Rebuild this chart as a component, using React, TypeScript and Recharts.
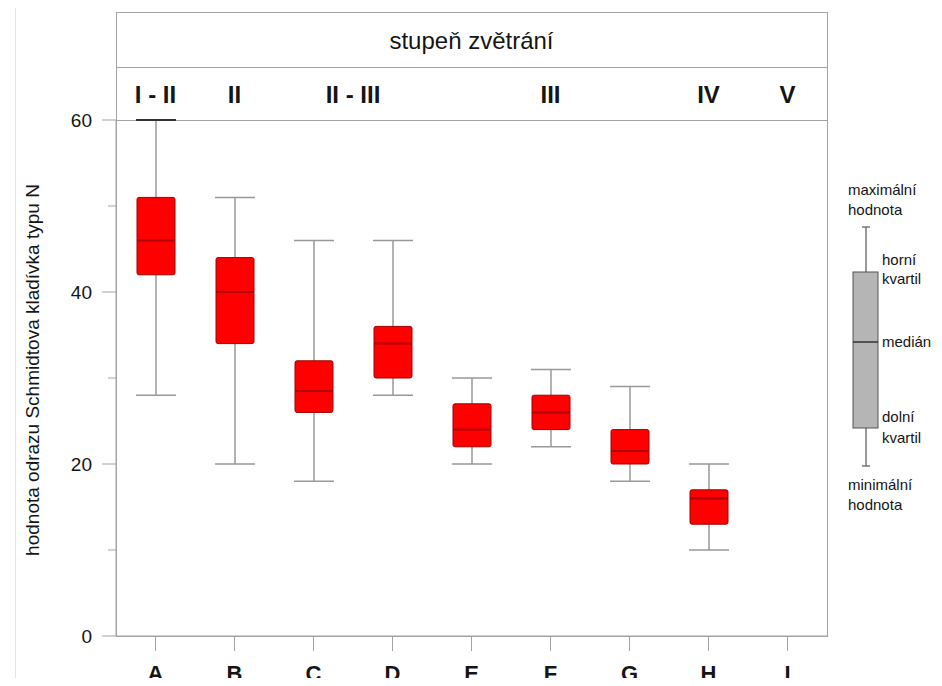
import React from 'react';
import { ComposedChart, Bar, XAxis, YAxis } from 'recharts';

// Box plot statistics per locality
const categories = ['A', 'B', 'C', 'D', 'E', 'F', 'G', 'H', 'I'];
const minValues = [28, 20, 18, 28, 20, 22, 18, 10, null];
const q1Values = [42, 34, 26, 30, 22, 24, 20, 13, null];
const medianValues = [46, 40, 28.5, 34, 24, 26, 21.5, 16, null];
const q3Values = [51, 44, 32, 36, 27, 28, 24, 17, null];
const maxValues = [60, 51, 46, 46, 30, 31, 29, 20, null];

const yTicks = [0, 10, 20, 30, 40, 50, 60];

// Weathering grade labels; a group may span several localities
const gradeGroups = [
  { label: 'I - II', from: 0, to: 0 },
  { label: 'II', from: 1, to: 1 },
  { label: 'II - III', from: 2, to: 3 },
  { label: 'III', from: 4, to: 6 },
  { label: 'IV', from: 7, to: 7 },
  { label: 'V', from: 8, to: 8 },
];

const data = categories.map((cat, i) => ({
  cat,
  range: minValues[i] == null ? null : [minValues[i], maxValues[i]],
  min: minValues[i],
  q1: q1Values[i],
  median: medianValues[i],
  q3: q3Values[i],
  max: maxValues[i],
}));

const W = 942;
const H = 686;
const PLOT_LEFT = 116;
const PLOT_RIGHT = 827;
const PLOT_TOP = 120;
const HEADER_TOP = 12;
const PLOT_BOTTOM = 636;
const BAND = (PLOT_RIGHT - PLOT_LEFT) / categories.length;

const FONT = "'Liberation Sans', Arial, Helvetica, sans-serif";
const LINE = '#a3a3a3';
const TEXT = '#151515';
const TICK_SIZE = 14;
const TICK_MARGIN = 10;

function BoxShape(props: any) {
  const { x, y, width, height, payload } = props;
  if (!payload || payload.min == null) return null;
  const top = Math.min(y, y + height);
  const span = Math.abs(height);
  const toY = (v: number) => top + ((payload.max - v) / (payload.max - payload.min)) * span;
  const cx = x + width / 2;
  const capHalf = width / 2 + 1;
  const yQ3 = toY(payload.q3);
  const yQ1 = toY(payload.q1);
  const topCap = payload.max >= 60;
  return (
    <g>
      <line x1={cx} x2={cx} y1={toY(payload.max)} y2={toY(payload.min)} stroke="#999" strokeWidth={1.5} />
      <line x1={cx - capHalf} x2={cx + capHalf} y1={toY(payload.max)} y2={toY(payload.max)} stroke={topCap ? '#333' : '#999'} strokeWidth={topCap ? 2 : 1.5} />
      <line x1={cx - capHalf} x2={cx + capHalf} y1={toY(payload.min)} y2={toY(payload.min)} stroke="#999" strokeWidth={1.5} />
      <rect x={x} y={yQ3} width={width} height={yQ1 - yQ3} rx={2} fill="#ff0000" stroke="#a00000" strokeWidth={1} />
      <line x1={x} x2={x + width} y1={toY(payload.median)} y2={toY(payload.median)} stroke="#b00000" strokeWidth={2} />
    </g>
  );
}

function YTick(props: any) {
  const { x, y, payload } = props;
  const major = payload.value % 20 === 0;
  const axisX = x + TICK_MARGIN + TICK_SIZE;
  return (
    <g>
      <line x1={axisX - (major ? TICK_SIZE : 8)} x2={axisX} y1={y} y2={y} stroke={LINE} strokeWidth={1} />
      {major && (
        <text x={x} y={y} dy={7} textAnchor="end" fontSize={19} fill={TEXT} fontFamily={FONT}>
          {payload.value}
        </text>
      )}
    </g>
  );
}

function XTick(props: any) {
  const { x, payload } = props;
  return (
    <text x={x} y={PLOT_BOTTOM + 45} textAnchor="middle" fontSize={22} fontWeight="bold" fill={TEXT} fontFamily={FONT}>
      {payload.value}
    </text>
  );
}

function GradeTick(props: any) {
  const { x, y, index } = props;
  const group = gradeGroups.find((g) => g.from === index);
  if (!group) return null;
  const gx = x + ((group.to - group.from) / 2) * BAND;
  return (
    <text x={gx} y={y - 17} textAnchor="middle" fontSize={24} fontWeight="bold" fill={TEXT} fontFamily={FONT}>
      {group.label}
    </text>
  );
}

function YLabel(props: any) {
  const { viewBox } = props;
  const lx = viewBox.x + 24;
  const ly = viewBox.y + viewBox.height / 2 - 8;
  return (
    <text
      x={lx}
      y={ly}
      transform={`rotate(-90, ${lx}, ${ly})`}
      textAnchor="middle"
      dominantBaseline="central"
      fontSize={19}
      fill={TEXT}
      fontFamily={FONT}
    >
      hodnota odrazu Schmidtova kladívka typu N
    </text>
  );
}

function BoxLegend() {
  const cx = 866;
  const t = { fontSize: 15, fill: TEXT, fontFamily: FONT } as const;
  return (
    <svg width={W} height={H} style={{ position: 'absolute', left: 0, top: 0, pointerEvents: 'none' }}>
      <line x1={cx} x2={cx} y1={227} y2={466} stroke="#777" strokeWidth={1.5} />
      <line x1={cx - 4} x2={cx + 4} y1={227} y2={227} stroke="#777" strokeWidth={1.5} />
      <line x1={cx - 4} x2={cx + 4} y1={466} y2={466} stroke="#777" strokeWidth={1.5} />
      <rect x={853} y={272} width={25} height={156} fill="#b5b5b5" stroke="#555" strokeWidth={1} />
      <line x1={853} x2={878} y1={342} y2={342} stroke="#333" strokeWidth={1.5} />
      <text x={848} y={195} {...t}>maximální</text>
      <text x={848} y={215} {...t}>hodnota</text>
      <text x={882} y={265} {...t}>horní</text>
      <text x={882} y={284} {...t}>kvartil</text>
      <text x={882} y={347} {...t}>medián</text>
      <text x={882} y={422} {...t}>dolní</text>
      <text x={882} y={443} {...t}>kvartil</text>
      <text x={848} y={490} {...t}>minimální</text>
      <text x={848} y={510} {...t}>hodnota</text>
    </svg>
  );
}

export default function App() {
  return (
    <div style={{ position: 'relative', width: W, height: H, margin: -8, background: '#fff', fontFamily: FONT, overflow: 'hidden' }}>
      {/* faint edge line on the left */}
      <div style={{ position: 'absolute', left: 15, top: 0, width: 1, height: H, background: '#e4e4e4' }} />
      {/* frame with the two-row header */}
      <div
        style={{
          position: 'absolute',
          left: PLOT_LEFT,
          top: HEADER_TOP,
          width: PLOT_RIGHT - PLOT_LEFT + 1,
          height: PLOT_BOTTOM - HEADER_TOP + 1,
          border: `1px solid ${LINE}`,
          boxSizing: 'border-box',
        }}
      />
      <div style={{ position: 'absolute', left: PLOT_LEFT, top: 67, width: PLOT_RIGHT - PLOT_LEFT, height: 1, background: LINE }} />
      <div style={{ position: 'absolute', left: PLOT_LEFT, top: PLOT_TOP, width: PLOT_RIGHT - PLOT_LEFT, height: 1, background: LINE }} />
      <div
        style={{
          position: 'absolute',
          left: PLOT_LEFT,
          top: HEADER_TOP,
          width: PLOT_RIGHT - PLOT_LEFT,
          height: 67 - HEADER_TOP,
          display: 'flex',
          alignItems: 'center',
          justifyContent: 'center',
          fontSize: 24,
          color: TEXT,
          paddingTop: 3,
          boxSizing: 'border-box',
        }}
      >
        stupeň zvětrání
      </div>
      <div style={{ position: 'relative' }}>
        <ComposedChart
          width={W}
          height={H}
          data={data}
          margin={{ top: HEADER_TOP, right: W - PLOT_RIGHT, bottom: 0, left: 8 }}
        >
          <XAxis
            xAxisId="grade"
            orientation="top"
            dataKey="cat"
            height={PLOT_TOP - HEADER_TOP}
            axisLine={false}
            tickLine={false}
            tickSize={0}
            tickMargin={0}
            interval={0}
            tick={(p: any) => <GradeTick {...p} />}
          />
          <XAxis
            dataKey="cat"
            height={H - PLOT_BOTTOM}
            interval={0}
            tickSize={15}
            tickMargin={0}
            axisLine={{ stroke: LINE }}
            tickLine={{ stroke: LINE }}
            tick={(p: any) => <XTick {...p} />}
          />
          <YAxis
            type="number"
            domain={[0, 60]}
            ticks={yTicks}
            interval={0}
            width={PLOT_LEFT - 8}
            tickSize={TICK_SIZE}
            tickMargin={TICK_MARGIN}
            tickLine={false}
            axisLine={{ stroke: LINE }}
            tick={(p: any) => <YTick {...p} />}
            label={{ content: (p: any) => <YLabel {...p} /> }}
          />
          <Bar dataKey="range" barSize={38} isAnimationActive={false} shape={(p: any) => <BoxShape {...p} />} />
        </ComposedChart>
      </div>
      <BoxLegend />
    </div>
  );
}
